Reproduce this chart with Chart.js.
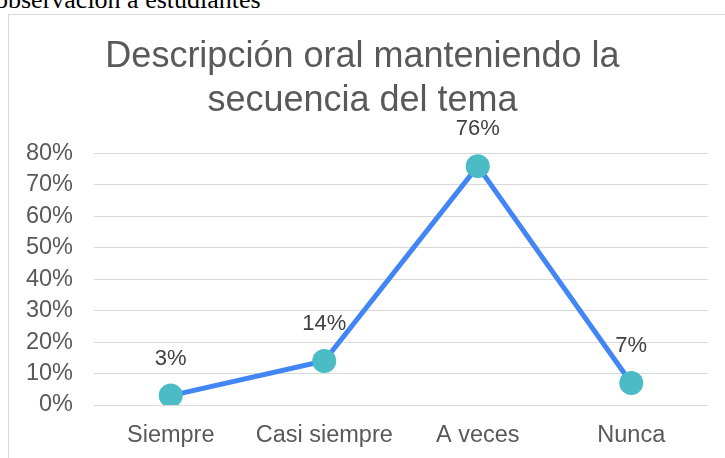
<!DOCTYPE html>
<html>
<head>
<meta charset="utf-8">
<script src="https://cdn.jsdelivr.net/npm/chart.js@4"></script>
<style>
  html, body { margin: 0; padding: 0; background: #fff; overflow: hidden; width: 725px; height: 458px; }
  #caption { position: absolute; left: -5px; top: -15px; font-family: "Liberation Serif", serif; font-size: 26px; color: #000; white-space: nowrap; }
  #box { position: absolute; left: 8px; top: 14px; width: 758px; height: 460px; border: 1px solid #d9d9d9; box-sizing: border-box; }
  #chart { display: block; }
</style>
</head>
<body>
<div id="caption">observación a estudiantes</div>
<div id="box"><canvas id="chart" width="756" height="458"></canvas></div>
<script>
// data
var categories = ['Siempre', 'Casi siempre', 'A veces', 'Nunca'];
var values = [0.03, 0.14, 0.76, 0.07];
var tickValues = [0, 0.1, 0.2, 0.3, 0.4, 0.5, 0.6, 0.7, 0.8];

var textColor = '#595959';
var fontFamily = '"Liberation Sans", Arial, sans-serif';

// draws the percentage above each point
var pointLabels = {
  id: 'pointLabels',
  afterDatasetsDraw: function(chart) {
    var ctx = chart.ctx;
    var meta = chart.getDatasetMeta(0);
    ctx.save();
    ctx.font = '22px ' + fontFamily;
    ctx.fillStyle = '#404040';
    ctx.textAlign = 'center';
    ctx.textBaseline = 'middle';
    meta.data.forEach(function(pt, i) {
      ctx.fillText(Math.round(values[i] * 100) + '%', pt.x, pt.y - 37);
    });
    ctx.restore();
  }
};

var chart = new Chart(document.getElementById('chart'), {
  type: 'line',
  data: {
    labels: categories,
    datasets: [{
      data: values,
      borderColor: '#4285f4',
      borderWidth: 5,
      pointRadius: 12,
      pointHoverRadius: 12,
      pointBackgroundColor: '#4bbcc6',
      pointBorderColor: '#4bbcc6',
      pointBorderWidth: 0,
      tension: 0
    }]
  },
  options: {
    responsive: false,
    animation: false,
    layout: { padding: { left: 8, right: 57, top: 0, bottom: 16 } },
    plugins: {
      legend: { display: false },
      tooltip: { enabled: false },
      title: {
        display: true,
        text: ['Descripción oral manteniendo la', 'secuencia del tema'],
        color: textColor,
        font: { family: fontFamily, size: 36, weight: 'normal', lineHeight: 1.23 },
        padding: { top: 20, bottom: 30 }
      }
    },
    scales: {
      x: {
        offset: true,
        grid: { display: false },
        border: { display: false },
        ticks: { color: textColor, font: { family: fontFamily, size: 23.5 }, padding: 8, maxRotation: 0 },
        afterFit: function(scale) { scale.height = 52; }
      },
      y: {
        min: 0,
        max: 0.8,
        afterBuildTicks: function(scale) {
          scale.ticks = tickValues.map(function(v) { return { value: v }; });
        },
        grid: { color: '#d9d9d9', lineWidth: 1, drawTicks: false },
        border: { display: false },
        ticks: {
          color: textColor,
          font: { family: fontFamily, size: 23.5 },
          padding: 21,
          callback: function(v) { return Math.round(v * 100) + '%'; }
        },
        afterFit: function(scale) { scale.width = 77; }
      }
    }
  },
  plugins: [pointLabels]
});
</script>
</body>
</html>
